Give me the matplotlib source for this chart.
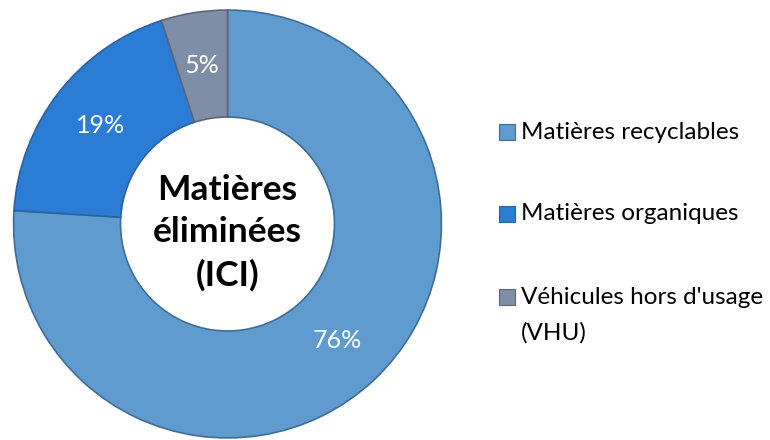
import matplotlib
matplotlib.use("Agg")
import matplotlib.pyplot as plt
from matplotlib.patches import Rectangle

plt.rcParams['font.family'] = ['Lato', 'DejaVu Sans']

categories = ["Matières recyclables", "Matières organiques", "Véhicules hors d'usage\n(VHU)"]
values = [76, 19, 5]
colors = ["#5f9bcf", "#2a7cd5", "#7f8ea7"]
edges = ["#3f6d98", "#2a62a3", "#5d6676"]
center_text = "Matières\néliminées\n(ICI)"

fig = plt.figure(figsize=(7.7, 4.4), dpi=100)
ax = fig.add_axes([12.5 / 770, 1 / 440, 430 / 770, 430 / 440])

wedges, texts, autotexts = ax.pie(
    values, colors=colors, startangle=90, counterclock=False, radius=1,
    autopct=lambda p: f"{p:.0f}%", pctdistance=0.75,
    wedgeprops=dict(width=0.5, linewidth=1.2),
    textprops=dict(color="white", fontsize=18))
for w, e in zip(wedges, edges):
    w.set_edgecolor(e)
ax.set_xlim(-1.005, 1.005)
ax.set_ylim(-1.005, 1.005)

ax.text(0, -0.04, center_text, ha="center", va="center", fontsize=25.5,
        fontweight="bold", color="black", linespacing=1.4)

# legend
leg_y = [132, 214, 297]
for lab, c, e, y in zip(categories, colors, edges, leg_y):
    fig.patches.append(Rectangle((499 / 770, 1 - (y + 8) / 440), 16 / 770, 16 / 440,
                                 transform=fig.transFigure, facecolor=c, edgecolor=e,
                                 linewidth=0.8))
    if "\n" in lab:
        first, second = lab.split("\n")
        fig.text(521 / 770, 1 - y / 440, first, ha="left", va="center",
                 fontsize=17.5, color="black")
        fig.text(521 / 770, 1 - (y + 36) / 440, second, ha="left", va="center",
                 fontsize=17.5, color="black")
    else:
        fig.text(521 / 770, 1 - y / 440, lab, ha="left", va="center",
                 fontsize=17.5, color="black")

fig.savefig("out.png", dpi=100)
